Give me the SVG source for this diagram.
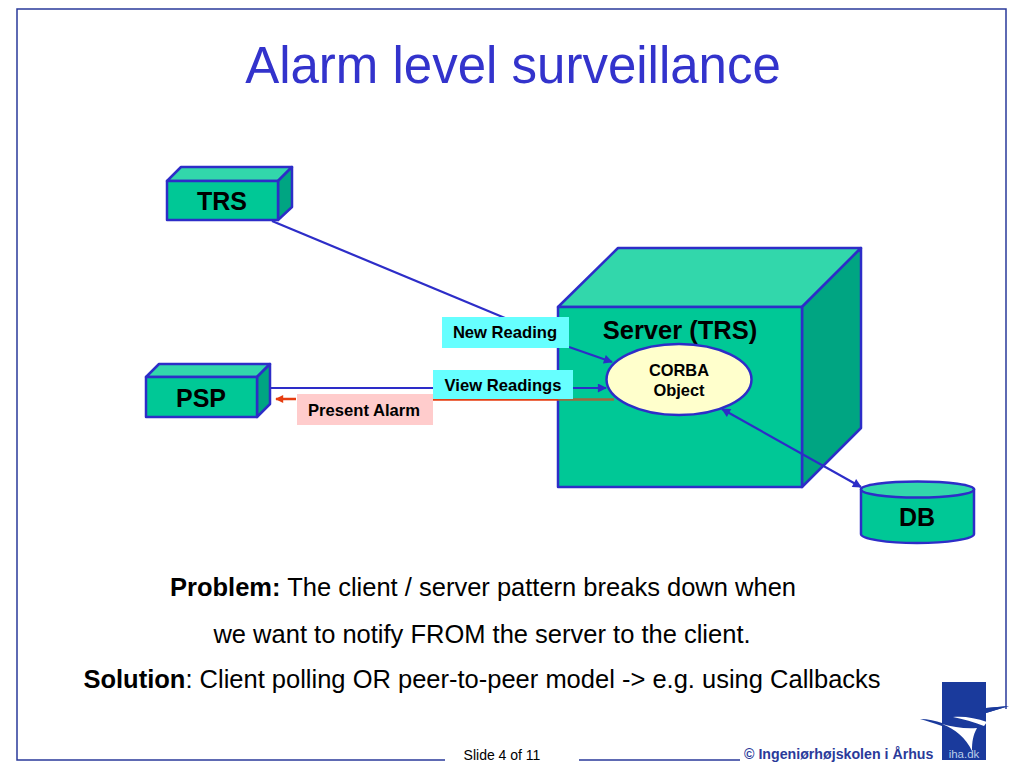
<svg xmlns="http://www.w3.org/2000/svg" width="1024" height="768" viewBox="0 0 1024 768">
<style>
text{font-family:"Liberation Sans",Arial,sans-serif;fill:#000}
.b{font-weight:bold}
.m{text-anchor:middle}
.f{fill:#00c896;stroke:#2d2dc8;stroke-width:2.5;stroke-linejoin:round}
.t{fill:#32d7ab;stroke:#2d2dc8;stroke-width:2.5;stroke-linejoin:round}
.s{fill:#00a582;stroke:#2d2dc8;stroke-width:2.5;stroke-linejoin:round}
.l{fill:none;stroke:#2d2dc8;stroke-width:2.2}
.r{fill:none;stroke:#e63c0f;stroke-width:2.5}
</style>
<defs>
<marker id="ab" viewBox="0 0 10 10" refX="9" refY="5" markerWidth="11" markerHeight="9" orient="auto-start-reverse" markerUnits="userSpaceOnUse"><path d="M0 0L10 5L0 10z" fill="#2d2dc8"/></marker>
<marker id="ar" viewBox="0 0 10 10" refX="9" refY="5" markerWidth="10" markerHeight="8" orient="auto" markerUnits="userSpaceOnUse"><path d="M0 0L10 5L0 10z" fill="#e63c0f"/></marker>
</defs>
<rect width="1024" height="768" fill="#fff"/>
<path id="frame" d="M1006 709V9H17V760H445M579 760H740" fill="none" stroke="#2a3a9a" stroke-width="1.5"/>
<text x="513" y="83" class="m" font-size="51" style="fill:#3333cc">Alarm level surveillance</text>
<g id="trs">
<path class="t" d="M167 181L181 167H292L278 181z"/>
<path class="s" d="M278 181L292 167V207L278 220z"/>
<rect class="f" x="167" y="181" width="111" height="39"/>
<text x="222" y="210" class="b m" font-size="25">TRS</text>
</g>
<g id="psp">
<path class="t" d="M146 377L159 364H270L257 377z"/>
<path class="s" d="M257 377L270 364V404L257 417z"/>
<rect class="f" x="146" y="377" width="111" height="40"/>
<text x="201" y="407" class="b m" font-size="25">PSP</text>
</g>
<g id="server">
<path class="t" d="M558 307L618 248H861L802 307z"/>
<path class="s" d="M802 307L861 248V428L802 487z"/>
<rect class="f" x="558" y="307" width="244" height="180"/>
<text x="680" y="339" class="b m" font-size="25.500">Server (TRS)</text>
</g>
<g id="db">
<path class="f" d="M861 489V534C861 539 887 543 917 543C947 543 974 539 974 534V489z"/>
<ellipse cx="917.500" cy="489.500" rx="56.500" ry="8" class="t"/>
<text x="917" y="526" class="b m" font-size="25">DB</text>
</g>
<g id="connectors">
<path class="l" d="M272 221L505 318"/>
<path class="l" d="M271 388H434"/>
<path class="r" d="M296 399H276" marker-end="url(#ar)"/>
<path class="r" d="M433 399.500H558"/>
<path d="M558 399.500H614" fill="none" stroke="#a0683c" stroke-width="2.500"/>
<path class="l" d="M569 347L612 362" marker-end="url(#ab)"/>
<path class="l" d="M573 388H606" marker-end="url(#ab)"/>
<path class="l" d="M722 409L861 487" marker-start="url(#ab)" marker-end="url(#ab)"/>
</g>
<g id="new-reading">
<rect x="442" y="317" width="127" height="31" fill="#66ffff"/>
<text x="505" y="338" class="b m" font-size="16.600">New Reading</text>
</g>
<g id="view-readings">
<rect x="433" y="370" width="140" height="29" fill="#66ffff"/>
<text x="503" y="391" class="b m" font-size="16.600">View Readings</text>
</g>
<g id="present-alarm">
<rect x="297" y="394" width="136" height="31" fill="#ffcccc"/>
<text x="364" y="416" class="b m" font-size="16.600">Present Alarm</text>
</g>
<g id="corba">
<ellipse cx="679" cy="379.500" rx="72.500" ry="35.500" fill="#ffffcc" stroke="#2d2dc8" stroke-width="2.500"/>
<text x="679" y="376" class="b m" font-size="16.400">CORBA</text>
<text x="679" y="396" class="b m" font-size="16.400">Object</text>
</g>
<g id="notes" font-size="25.500">
<text x="483" y="596" class="m"><tspan class="b">Problem:</tspan> The client / server pattern breaks down when</text>
<text x="482" y="643" class="m">we want to notify FROM the server to the client.</text>
<text x="482" y="688" class="m"><tspan class="b">Solution</tspan>: Client polling OR peer-to-peer model -&gt; e.g. using Callbacks</text>
</g>
<g id="footer">
<text x="502" y="760" class="m" font-size="14">Slide 4 of 11</text>
<text x="744" y="759" class="b" font-size="14.200" style="fill:#2a3a9a">© Ingeniørhøjskolen i Århus</text>
</g>
<g id="logo">
<rect x="942" y="682" width="44" height="78" fill="#1a3a9c"/>
<path d="M942 724C955 729 966 738 972 751C972 742 973 735 977 728C965 729 953 727 942 724z" fill="#fff"/>
<path d="M953 717C964 716 976 718 987 722L984 726C974 722 963 719 953 717z" fill="#fff"/>
<path d="M920 719C928 719 936 721 942 723V726C934 723 927 721 920 719z" fill="#1a3a9c"/>
<path d="M979 711L986 708L1009 706L986 713z" fill="#1a3a9c"/>
<path d="M986 708L1009 706L986 713z" fill="#1a3a9c"/>
<text x="964" y="758" class="m" font-size="11.500" style="fill:#b9cdea">iha.dk</text>
</g>
</svg>
